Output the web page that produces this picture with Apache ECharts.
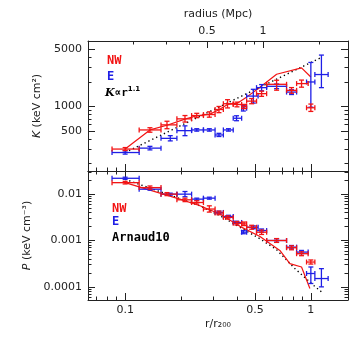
<!DOCTYPE html>
<html>
<head>
<meta charset="utf-8">
<title>Entropy and pressure profiles</title>
<script src="https://cdn.jsdelivr.net/npm/echarts@6/dist/echarts.min.js"></script>
<style>
  html, body { margin: 0; padding: 0; background: #fff; }
  #chart { width: 354px; height: 353px; }
</style>
</head>
<body>
<div id="chart"></div>
<script>
// r200 in Mpc, used for the top axis
var R200_MPC = 1.81;
var X_RANGE = [0.0631, 1.585];
var K_RANGE = [163, 6300];
var P_RANGE = [5.2e-5, 0.0316];

// ticks
var xMajor = [0.1, 0.5, 1];
var xMinor = [0.07, 0.08, 0.09, 0.2, 0.3, 0.4, 0.6, 0.7, 0.8, 0.9];
var xTickLabels = ['0.1', '0.5', '1'];
var mpcMajor = [0.5, 1];
var mpcMinor = [0.2, 0.3, 0.4, 0.6, 0.7, 0.8, 0.9, 2];
var mpcTickLabels = ['0.5', '1'];
var kMajor = [500, 1000, 5000];
var kMinor = [200, 300, 400, 600, 700, 800, 900, 2000, 3000, 4000];
var kTickLabels = ['500', '1000', '5000'];
var pMajor = [0.0001, 0.001, 0.01];
var pMinor = [0.00006, 0.00007, 0.00008, 0.00009,
              0.0002, 0.0003, 0.0004, 0.0005, 0.0006, 0.0007, 0.0008, 0.0009,
              0.002, 0.003, 0.004, 0.005, 0.006, 0.007, 0.008, 0.009,
              0.02, 0.03];
var pTickLabels = ['0.0001', '0.001', '0.01'];

// entropy points: [r, rLo, rHi, K, KLo, KHi]
var nwEntropy = [
  [0.100, 0.085, 0.119, 302, 290, 315],
  [0.136, 0.119, 0.156, 517, 485, 550],
  [0.168, 0.156, 0.190, 596, 535, 660],
  [0.210, 0.190, 0.228, 706, 645, 775],
  [0.243, 0.228, 0.264, 775, 730, 825],
  [0.284, 0.264, 0.305, 797, 740, 860],
  [0.320, 0.305, 0.338, 918, 840, 1000],
  [0.356, 0.338, 0.382, 1080, 960, 1210],
  [0.400, 0.382, 0.424, 1058, 990, 1130],
  [0.437, 0.424, 0.451, 1000, 940, 1060],
  [0.480, 0.451, 0.510, 1162, 1080, 1250],
  [0.543, 0.510, 0.578, 1433, 1330, 1540],
  [0.654, 0.578, 0.740, 1865, 1580, 2090],
  [0.787, 0.740, 0.838, 1573, 1450, 1700],
  [0.891, 0.838, 0.967, 1902, 1720, 2100],
  [1.000, 0.948, 1.051, 964, 870, 1070]
];
var eEntropy = [
  [0.100, 0.085, 0.119, 274, 262, 287],
  [0.136, 0.119, 0.156, 310, 295, 326],
  [0.175, 0.156, 0.190, 408, 380, 440],
  [0.210, 0.190, 0.228, 507, 440, 580],
  [0.243, 0.228, 0.264, 517, 500, 535],
  [0.284, 0.264, 0.305, 517, 500, 535],
  [0.320, 0.305, 0.338, 449, 430, 470],
  [0.360, 0.338, 0.382, 517, 500, 535],
  [0.398, 0.382, 0.424, 718, 670, 770],
  [0.433, 0.424, 0.451, 953, 880, 1030],
  [0.490, 0.451, 0.520, 1339, 1100, 1620],
  [0.543, 0.510, 0.578, 1698, 1550, 1850],
  [0.654, 0.578, 0.740, 1762, 1650, 1880],
  [0.787, 0.740, 0.838, 1499, 1400, 1600],
  [1.000, 0.948, 1.051, 1991, 980, 3447],
  [1.140, 1.051, 1.239, 2454, 1698, 4240]
];
var nwEntropyLine = [
  [0.100, 302], [0.136, 517], [0.168, 590], [0.210, 700], [0.243, 770],
  [0.284, 800], [0.320, 910], [0.356, 1060], [0.400, 1090], [0.450, 1300],
  [0.520, 1650], [0.654, 2475], [0.891, 2960], [1.000, 2290]
];
var powerLaw = [[0.100, 274], [1.140, 3970]];

// pressure points: [r, rLo, rHi, P, PLo, PHi]
var nwPressure = [
  [0.100, 0.085, 0.119, 0.0177, 0.0166, 0.0189],
  [0.136, 0.119, 0.156, 0.01384, 0.0128, 0.0150],
  [0.168, 0.156, 0.190, 0.0100, 0.0093, 0.0108],
  [0.210, 0.190, 0.228, 0.00755, 0.0069, 0.0082],
  [0.243, 0.228, 0.264, 0.0066, 0.0061, 0.0072],
  [0.284, 0.264, 0.305, 0.00477, 0.0041, 0.0056],
  [0.320, 0.305, 0.338, 0.00392, 0.0036, 0.0043],
  [0.356, 0.338, 0.382, 0.00315, 0.0029, 0.0034],
  [0.400, 0.382, 0.424, 0.00235, 0.00215, 0.00257],
  [0.437, 0.424, 0.451, 0.00228, 0.0021, 0.0025],
  [0.480, 0.451, 0.510, 0.00193, 0.00175, 0.00213],
  [0.543, 0.510, 0.578, 0.00151, 0.00135, 0.00168],
  [0.654, 0.578, 0.740, 0.00100, 0.00091, 0.0011],
  [0.787, 0.740, 0.838, 0.000698, 0.00063, 0.00077],
  [0.891, 0.838, 0.967, 0.000519, 0.00047, 0.00057],
  [1.000, 0.948, 1.051, 0.000343, 0.00031, 0.00038]
];
var ePressure = [
  [0.100, 0.085, 0.119, 0.0220, 0.0209, 0.0232],
  [0.136, 0.119, 0.156, 0.0128, 0.0122, 0.0135],
  [0.175, 0.156, 0.190, 0.0100, 0.0095, 0.0105],
  [0.210, 0.190, 0.228, 0.0100, 0.0088, 0.0114],
  [0.243, 0.228, 0.264, 0.00781, 0.0074, 0.0082],
  [0.284, 0.264, 0.305, 0.0082, 0.0078, 0.0086],
  [0.320, 0.305, 0.338, 0.00403, 0.0038, 0.0043],
  [0.360, 0.338, 0.382, 0.00331, 0.0031, 0.0035],
  [0.398, 0.382, 0.424, 0.00245, 0.0023, 0.0026],
  [0.433, 0.424, 0.451, 0.00151, 0.0014, 0.00163],
  [0.490, 0.451, 0.520, 0.00193, 0.0018, 0.00207],
  [0.543, 0.510, 0.578, 0.00164, 0.00152, 0.00177],
  [0.654, 0.578, 0.740, 0.00100, 0.00092, 0.00109],
  [0.787, 0.740, 0.838, 0.000719, 0.00066, 0.00078],
  [0.891, 0.838, 0.967, 0.000562, 0.00052, 0.00061],
  [1.000, 0.948, 1.051, 0.000194, 0.000118, 0.000268],
  [1.140, 1.051, 1.239, 0.000151, 0.0000999, 0.000247]
];
var nwPressureLine = [
  [0.100, 0.0177], [0.197, 0.00781], [0.253, 0.00561], [0.324, 0.00373],
  [0.415, 0.00202], [0.532, 0.00122], [0.681, 0.000611], [0.771, 0.000317],
  [0.891, 0.000268], [0.988, 0.0000925]
];
var arnaud10 = [
  [0.100, 0.0209], [0.253, 0.00561], [0.324, 0.00343], [0.415, 0.00193],
  [0.532, 0.00109], [0.654, 0.000633], [0.820, 0.000248], [1.030, 0.000109],
  [1.140, 0.0000781]
];

var RED = '#f21414';
var BLUE = '#1f1fe6';
var INK = '#222';
var FONT = 'DejaVu Sans';

function lg(v) { return Math.log10(v); }

function labelFormatter(values, texts) {
  return function (v) {
    for (var i = 0; i < values.length; i++) {
      if (Math.abs(lg(values[i]) - v) < 1e-6) return texts[i];
    }
    return '';
  };
}

function axis(grid, pos, range, ticks, len, opts) {
  opts = opts || {};
  var a = {
    type: 'value', gridIndex: grid, position: pos,
    min: lg(range[0]), max: lg(range[1]),
    axisLine: { show: !!opts.line, onZero: false, lineStyle: { color: INK, width: 1 } },
    axisTick: { show: true, inside: true, length: len, customValues: ticks.map(lg),
                lineStyle: { color: INK, width: 1 } },
    axisLabel: { show: false },
    splitLine: { show: false },
    axisPointer: { show: false }
  };
  if (opts.labels) {
    a.axisLabel = {
      show: true, customValues: opts.labels[0].map(lg),
      formatter: labelFormatter(opts.labels[0], opts.labels[1]),
      color: INK, fontFamily: FONT, fontSize: 11, margin: opts.margin || 6
    };
  }
  if (opts.name) {
    a.name = opts.name;
    a.nameLocation = 'middle';
    a.nameGap = opts.nameGap;
    a.nameRotate = opts.nameRotate;
    a.nameTextStyle = {
      color: INK, fontFamily: FONT, fontSize: 11,
      rich: { i: { fontStyle: 'italic', fontFamily: FONT, fontSize: 11, color: INK } }
    };
  }
  return a;
}

var mpcRange = [X_RANGE[0] * R200_MPC, X_RANGE[1] * R200_MPC];

var xAxes = [
  axis(0, 'bottom', X_RANGE, xMajor, 7, { line: true }),
  axis(0, 'bottom', X_RANGE, xMinor, 3.5),
  axis(0, 'top', mpcRange, mpcMajor, 7, { line: true, labels: [mpcMajor, mpcTickLabels], margin: 4,
       name: 'radius (Mpc)', nameGap: 21 }),
  axis(0, 'top', mpcRange, mpcMinor, 3.5),
  axis(1, 'bottom', X_RANGE, xMajor, 7, { line: true, labels: [xMajor, xTickLabels], margin: 5,
       name: 'r/r₂₀₀', nameGap: 19 }),
  axis(1, 'bottom', X_RANGE, xMinor, 3.5),
  axis(1, 'top', X_RANGE, xMajor, 7, { line: true }),
  axis(1, 'top', X_RANGE, xMinor, 3.5)
];
var yAxes = [
  axis(0, 'left', K_RANGE, kMajor, 7, { line: true, labels: [kMajor, kTickLabels], margin: 6,
       name: '{i|K} (keV cm²)', nameGap: 44, nameRotate: 90 }),
  axis(0, 'left', K_RANGE, kMinor, 3.5),
  axis(0, 'right', K_RANGE, kMajor, 7, { line: true }),
  axis(0, 'right', K_RANGE, kMinor, 3.5),
  axis(1, 'left', P_RANGE, pMajor, 7, { line: true, labels: [pMajor, pTickLabels], margin: 6,
       name: '{i|P} (keV cm⁻³)', nameGap: 47, nameRotate: 90 }),
  axis(1, 'left', P_RANGE, pMinor, 3.5),
  axis(1, 'right', P_RANGE, pMajor, 7, { line: true }),
  axis(1, 'right', P_RANGE, pMinor, 3.5)
];

function errorBars(rows, color, axisIdx) {
  return {
    type: 'custom', xAxisIndex: axisIdx, yAxisIndex: axisIdx, z: 4,
    data: rows.map(function (d) { return d.map(lg); }),
    encode: { x: 0, y: 3 },
    renderItem: function (params, api) {
      var c = api.coord([api.value(0), api.value(3)]);
      var xl = api.coord([api.value(1), api.value(3)]);
      var xh = api.coord([api.value(2), api.value(3)]);
      var yl = api.coord([api.value(0), api.value(4)]);
      var yh = api.coord([api.value(0), api.value(5)]);
      var cap = 2.5;
      function seg(x1, y1, x2, y2) {
        return { type: 'line', shape: { x1: x1, y1: y1, x2: x2, y2: y2 },
                 style: { stroke: color, lineWidth: 1.3 } };
      }
      return { type: 'group', children: [
        seg(xl[0], c[1], xh[0], c[1]),
        seg(xl[0], c[1] - cap, xl[0], c[1] + cap),
        seg(xh[0], c[1] - cap, xh[0], c[1] + cap),
        seg(c[0], yl[1], c[0], yh[1]),
        seg(c[0] - cap, yl[1], c[0] + cap, yl[1]),
        seg(c[0] - cap, yh[1], c[0] + cap, yh[1])
      ] };
    }
  };
}

function curve(rows, color, dotted, axisIdx) {
  return {
    type: 'line', xAxisIndex: axisIdx, yAxisIndex: axisIdx, z: 3,
    data: rows.map(function (d) { return [lg(d[0]), lg(d[1])]; }),
    showSymbol: false, symbol: 'none', silent: true,
    lineStyle: { color: color, width: dotted ? 1.4 : 1.2, type: dotted ? [1.3, 3] : 'solid' }
  };
}

function legendText(text, color, x, y, rich) {
  return {
    type: 'text', left: x, top: y, z: 10,
    style: { text: text, fill: color, font: 'bold 12px "DejaVu Sans Mono"', rich: rich }
  };
}

var chart = echarts.init(document.getElementById('chart'), null, { renderer: 'canvas' });
chart.setOption({
  animation: false,
  backgroundColor: '#fff',
  grid: [
    { left: 88, right: 6, top: 41, height: 130 },
    { left: 88, right: 6, top: 171, height: 129 }
  ],
  xAxis: xAxes,
  yAxis: yAxes,
  graphic: [
    legendText('NW', RED, 107, 55),
    legendText('E', BLUE, 107, 71),
    {
      type: 'text', left: 105, top: 86, z: 10,
      style: {
        text: '{k|K}{t|∝r}{s|1.1}',
        rich: {
          k: { fontFamily: 'DejaVu Serif', fontStyle: 'italic', fontWeight: 'bold', fontSize: 11, fill: '#000', lineHeight: 14 },
          t: { fontFamily: 'DejaVu Sans Mono', fontWeight: 'bold', fontSize: 11, fill: '#000', lineHeight: 14 },
          s: { fontFamily: 'DejaVu Sans', fontWeight: 'bold', fontSize: 7, fill: '#000', verticalAlign: 'top', lineHeight: 14 }
        }
      }
    },
    legendText('NW', RED, 112, 203),
    legendText('E', BLUE, 112, 216),
    legendText('Arnaud10', '#000', 112, 232)
  ],
  series: [
    curve(powerLaw, '#000', true, 0),
    curve(nwEntropyLine, RED, false, 0),
    errorBars(eEntropy, BLUE, 0),
    errorBars(nwEntropy, RED, 0),
    curve(arnaud10, '#000', true, 4),
    curve(nwPressureLine, RED, false, 4),
    errorBars(ePressure, BLUE, 4),
    errorBars(nwPressure, RED, 4)
  ]
});
</script>
</body>
</html>
